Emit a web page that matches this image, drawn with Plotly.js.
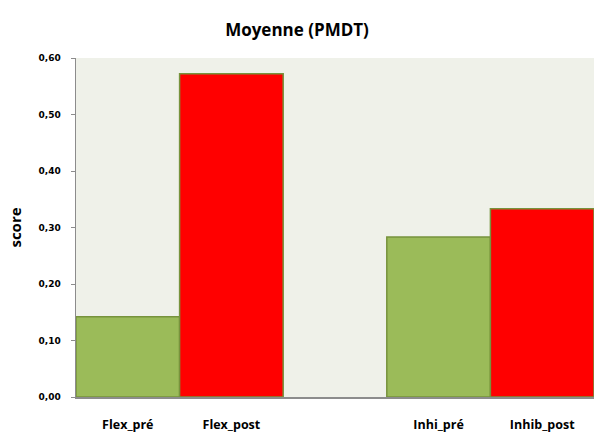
<!DOCTYPE html>
<html>
<head>
<meta charset="utf-8">
<script src="https://cdn.plot.ly/plotly-3.0.1.min.js"></script>
<style>html,body{margin:0;padding:0;background:#fff;}#chart{width:594px;height:436px;}</style>
</head>
<body>
<div id="chart"></div>
<script>
const categories = ["Flex_pré", "Flex_post", " ", "Inhi_pré", "Inhib_post"];
const scores = [0.142, 0.572, null, 0.283, 0.333];
const barColors = ["#9BBB59", "#FF0000", "#9BBB59", "#9BBB59", "#FF0000"];
const yTicks = [0, 0.1, 0.2, 0.3, 0.4, 0.5, 0.6];

const trace = {
  type: "bar",
  x: categories,
  y: scores,
  marker: { color: barColors, line: { color: "#77933C", width: 1.5 } },
  hoverinfo: "skip"
};

const layout = {
  width: 594, height: 436,
  margin: { l: 76, r: 0, t: 58, b: 39 },
  paper_bgcolor: "#FFFFFF",
  plot_bgcolor: "#EFF1E9",
  separators: ",.",
  bargap: 0,
  showlegend: false,
  title: {
    text: "<b>Moyenne (PMDT)</b>",
    font: { family: "'Open Sans', Lato, sans-serif", size: 17, color: "#000" },
    x: 0.5, xref: "container", xanchor: "center",
    y: 0.93, yref: "container", yanchor: "middle"
  },
  xaxis: {
    type: "category",
    categoryorder: "array",
    categoryarray: categories,
    showline: true, linecolor: "#8C8C8C", linewidth: 1.5,
    showgrid: false, zeroline: false,
    ticks: "",
    ticklabelstandoff: 15,
    tickfont: { family: "'Open Sans', Lato, sans-serif", size: 12.5, color: "#000", weight: "bold" },
    fixedrange: true
  },
  yaxis: {
    range: [0, 0.6],
    tickvals: yTicks,
    tickformat: ".2f",
    showline: true, linecolor: "#8C8C8C", linewidth: 1.5,
    showgrid: false, zeroline: false,
    ticks: "outside", ticklen: 4, tickcolor: "#8C8C8C",
    ticklabelstandoff: 8,
    tickfont: { family: "'DejaVu Sans', sans-serif", size: 9, color: "#000", weight: "bold" },
    title: { text: "score", standoff: 13, font: { family: "'Open Sans', Lato, sans-serif", size: 15, color: "#000", weight: "bold" } },
    fixedrange: true
  }
};

Plotly.newPlot("chart", [trace], layout, { displayModeBar: false, staticPlot: true });
</script>
</body>
</html>
